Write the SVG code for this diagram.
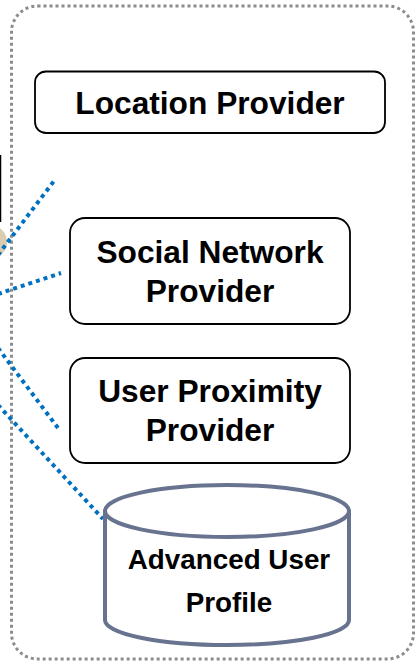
<svg xmlns="http://www.w3.org/2000/svg" width="415" height="663" viewBox="0 0 415 663">
<style>
.box{fill:#fff;stroke:#000;stroke-width:1.8}
.lbl{font-family:"Liberation Sans",Arial,sans-serif;font-weight:bold;font-size:31.7px;fill:#000;text-anchor:middle}
.lbl2{font-family:"Liberation Sans",Arial,sans-serif;font-weight:bold;font-size:27.8px;fill:#000;text-anchor:middle}
.conn{stroke:#0070c0;stroke-width:4;stroke-dasharray:4 4;fill:none}
.cyl{fill:#fff;stroke:#687390;stroke-width:4}
</style>
<rect id="boundary" x="11.5" y="6" width="402" height="653" rx="26" fill="none" stroke="#8c8c8c" stroke-width="3" stroke-dasharray="3 3"/>
<line x1="0.5" y1="155" x2="0.5" y2="222" stroke="#000" stroke-width="1.5"/>
<circle cx="-10" cy="242" r="17" fill="#d9ccb0"/>
<g id="connectors">
<line class="conn" x1="-2" y1="255" x2="54" y2="181"/>
<line class="conn" x1="-2" y1="294" x2="61" y2="273"/>
<line class="conn" x1="-2" y1="348" x2="58" y2="428"/>
<line class="conn" x1="-2" y1="405" x2="103" y2="519"/>
</g>
<g id="location-provider">
<rect class="box" x="35" y="71.5" width="350" height="61.5" rx="11"/>
<text class="lbl" x="210" y="114">Location Provider</text>
</g>
<g id="social-network-provider">
<rect class="box" x="70" y="218" width="280" height="106" rx="15"/>
<text class="lbl" x="210" y="263">Social Network</text>
<text class="lbl" x="210" y="302">Provider</text>
</g>
<g id="user-proximity-provider">
<rect class="box" x="70" y="358" width="280" height="105" rx="15"/>
<text class="lbl" x="210" y="402">User Proximity</text>
<text class="lbl" x="210" y="441">Provider</text>
</g>
<g id="advanced-user-profile">
<path class="cyl" d="M105,511 L105,620 A122,25 0 0 0 349,620 L349,511"/>
<ellipse class="cyl" cx="227" cy="511" rx="122" ry="26"/>
<text class="lbl2" x="229" y="569">Advanced User</text>
<text class="lbl2" x="229" y="612">Profile</text>
</g>
</svg>
